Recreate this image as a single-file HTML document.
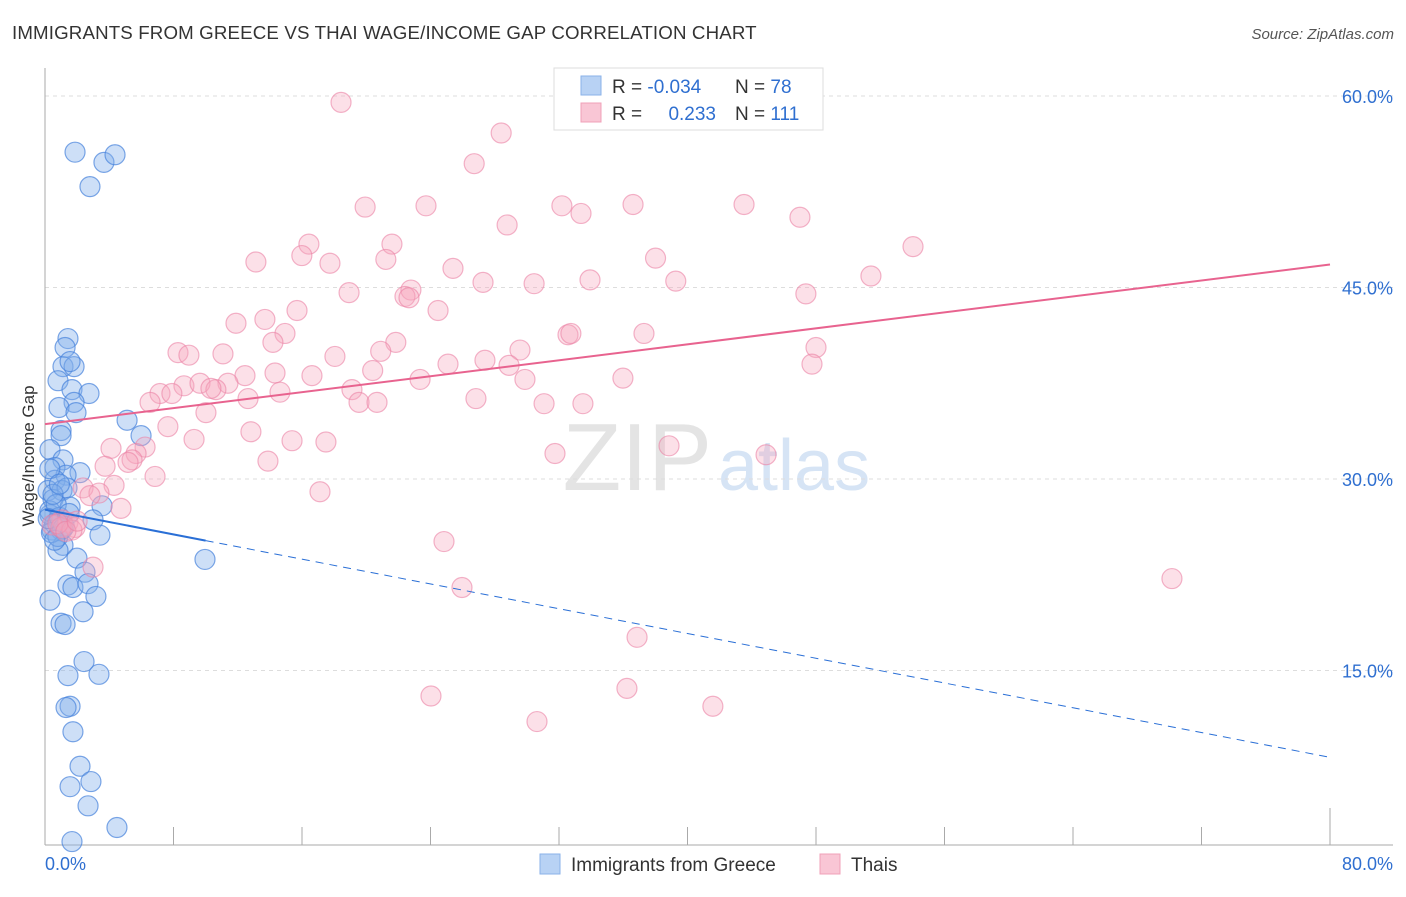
<!DOCTYPE html>
<html><head><meta charset="utf-8"><style>
body{margin:0;background:#fff;font-family:"Liberation Sans",sans-serif;}
svg text{font-family:"Liberation Sans",sans-serif;}
</style></head><body>
<svg id="chart" width="1406" height="892" xmlns="http://www.w3.org/2000/svg">
<text x="12" y="39" font-size="18.7" fill="#333" letter-spacing="0.15">IMMIGRANTS FROM GREECE VS THAI WAGE/INCOME GAP CORRELATION CHART</text>
<text x="1394" y="39" font-size="15" fill="#555" text-anchor="end" font-style="italic">Source: ZipAtlas.com</text>
<text x="712" y="490" font-size="96" fill="#e4e4e4" text-anchor="end" font-family="Liberation Serif">ZIP</text>
<text x="718" y="490" font-size="72" fill="#d6e4f5">atlas</text>
<g id="grid"></g>
<g id="axes"></g>
<g id="pts"></g>
<g id="trend"></g>
<text transform="translate(34,456) rotate(-90)" font-size="17" fill="#333" text-anchor="middle">Wage/Income Gap</text>
<g>
<rect x="554" y="68" width="269" height="62" fill="#fff" stroke="#ddd"/>
<rect x="581" y="76" width="20" height="19" fill="#b8d2f4" stroke="#8ab2e8"/>
<rect x="581" y="103" width="20" height="19" fill="#f9c6d5" stroke="#f0a0b8"/>
<text x="612" y="93" font-size="19" fill="#333">R = <tspan fill="#2f6fd0">-0.034</tspan></text>
<text x="735" y="93" font-size="19" fill="#333">N = <tspan fill="#2f6fd0">78</tspan></text>
<text x="612" y="120" font-size="19" fill="#333">R = </text>
<text x="716" y="120" font-size="19" fill="#2f6fd0" text-anchor="end">0.233</text>
<text x="735" y="120" font-size="19" fill="#333">N = <tspan fill="#2f6fd0">111</tspan></text>
</g>
<g>
<rect x="540" y="854" width="20" height="20" fill="#b8d2f4" stroke="#8ab2e8"/>
<text x="571" y="871" font-size="19" fill="#333">Immigrants from Greece</text>
<rect x="820" y="854" width="20" height="20" fill="#f9c6d5" stroke="#f0a0b8"/>
<text x="851" y="871" font-size="19" fill="#333">Thais</text>
</g>
</svg>
<script>
const yTicks=[15,30,45,60];
const xTickLabels=["0.0%","80.0%"];
const blueX=[1.87,3.67,4.36,2.80,1.43,1.25,1.12,1.81,1.56,0.81,1.68,2.74,1.81,0.87,1.93,1.00,5.11,1.00,5.98,0.31,1.12,0.62,2.18,1.31,0.62,0.19,1.06,1.37,0.50,1.56,3.55,2.99,0.31,0.81,1.00,0.44,3.42,1.12,0.81,1.99,9.96,2.49,1.43,1.74,2.68,3.17,0.31,2.37,1.00,1.25,2.43,3.36,1.43,1.56,1.31,1.74,2.18,2.86,1.56,2.68,4.48,1.68,0.3,0.6,0.9,0.4,0.7,1.2,0.2,0.5,0.8,1.5,0.3,0.9,1.1,0.6];
const blueY=[55.6,54.8,55.4,52.9,41.0,40.3,38.8,38.8,39.2,37.7,37.0,36.7,36.0,35.6,35.2,33.8,34.6,33.4,33.4,32.3,31.5,30.9,30.5,30.3,29.9,29.1,29.1,29.3,28.4,27.8,27.9,26.8,27.2,26.8,26.0,26.0,25.6,24.8,24.4,23.8,23.7,22.7,21.7,21.5,21.8,20.8,20.5,19.6,18.7,18.6,15.7,14.7,14.6,12.2,12.1,10.2,7.5,6.3,5.9,4.4,2.7,1.6,27.5,26.5,27.0,25.8,28.0,26.3,26.9,28.8,25.5,27.3,30.8,29.6,26.1,25.2];
const pinkX=[18.43,28.40,26.72,19.93,23.72,32.18,33.37,36.61,43.52,47.0,28.77,16.43,21.6,15.99,13.13,17.74,21.22,54.04,25.40,38.01,27.27,30.45,33.93,39.27,51.42,18.93,22.78,22.41,22.66,47.37,15.69,24.47,11.89,13.69,14.94,32.56,32.74,37.29,21.84,20.90,8.28,8.96,11.08,14.19,18.05,29.57,48.0,47.75,27.39,28.89,25.09,20.40,12.45,14.32,16.62,29.88,23.35,35.98,8.65,9.65,11.39,10.64,7.16,7.90,14.63,19.11,10.33,12.64,6.54,19.55,20.67,26.83,31.07,33.49,10.02,7.65,12.82,9.28,15.38,17.49,6.23,4.11,5.67,31.75,38.85,44.89,5.42,5.17,13.88,3.74,6.85,4.30,2.37,3.36,2.80,17.12,4.73,1.06,1.43,1.87,0.44,1.0,1.68,24.84,2.99,25.96,70.16,36.86,36.23,24.03,41.58,30.63,0.8,1.3,2.0];
const pinkY=[59.5,57.1,54.7,51.3,51.4,51.4,50.8,51.5,51.5,50.5,49.9,48.4,48.4,47.5,47.0,46.9,47.2,48.2,46.5,47.3,45.4,45.3,45.6,45.5,45.9,44.6,44.8,44.3,44.2,44.5,43.2,43.2,42.2,42.5,41.4,41.3,41.4,41.4,40.7,40.0,39.9,39.7,39.8,40.7,39.6,40.1,40.3,39.0,39.3,38.9,39.0,38.5,38.1,38.3,38.1,37.8,37.8,37.9,37.3,37.5,37.5,37.0,36.7,36.7,36.8,37.0,37.1,36.3,36.0,36.0,36.0,36.3,35.9,35.9,35.2,34.1,33.7,33.1,33.0,32.9,32.5,32.4,32.0,32.0,32.6,31.9,31.5,31.3,31.4,31.0,30.2,29.5,29.3,28.9,28.7,29.0,27.7,26.8,26.6,26.2,26.4,26.2,26.0,25.1,23.1,21.5,22.2,17.6,13.6,13.0,12.2,11.0,26.5,25.9,26.7];
const blueTrend=[27.6,8.2];
const pinkTrend=[34.3,46.8];
const X0=45,X1=1330,YB=862,PXPER=191.5/15;
function sx(v){return X0+(v/80)*(X1-X0);}
function sy(v){return YB-v*PXPER;}
const NS="http://www.w3.org/2000/svg";
function mk(tag,attrs,parent){const e=document.createElementNS(NS,tag);for(const k in attrs)e.setAttribute(k,attrs[k]);parent.appendChild(e);return e;}
const grid=document.getElementById('grid'),axes=document.getElementById('axes'),pts=document.getElementById('pts'),trend=document.getElementById('trend');
yTicks.forEach(t=>{
 const l=mk('line',{x1:X0,x2:1393,y1:sy(t),y2:sy(t),stroke:'#ddd','stroke-dasharray':'4,4'},grid);
 
 
 const tx=mk('text',{x:1393,y:sy(t)+7,'font-size':18,fill:'#2f6fd0','text-anchor':'end'},grid);
 tx.textContent=t.toFixed(1)+'%';
 
 
});
const ya=mk('line',{x1:X0,x2:X0,y1:68,y2:845,stroke:'#aaa'},axes);


const xa=mk('line',{x1:X0,x2:1393,y1:845,y2:845,stroke:'#aaa'},axes);


for(let k=1;k<=10;k++){
 const v=k*8; if(v>80)break;
 const t=mk('line',{x1:sx(v),x2:sx(v),y1:v===80?808:827,y2:845,stroke:'#aaa'},axes);
 
 
}
const l0=mk('text',{x:45,y:870,'font-size':18,fill:'#2f6fd0'},axes);l0.textContent=xTickLabels[0];


const l1=mk('text',{x:1393,y:870,'font-size':18,fill:'#2f6fd0','text-anchor':'end'},axes);l1.textContent=xTickLabels[1];


blueX.forEach((x,i)=>{
 const c=mk('circle',{cx:sx(x),cy:sy(blueY[i]),r:10,fill:'rgba(130,175,235,0.4)',stroke:'rgba(70,130,220,0.7)','stroke-width':1.2},pts);
 
 
});
pinkX.forEach((x,i)=>{
 const c=mk('circle',{cx:sx(x),cy:sy(pinkY[i]),r:10,fill:'rgba(245,165,190,0.35)',stroke:'rgba(235,130,165,0.6)','stroke-width':1.2},pts);
 
 
});
function ty(tr,x){return tr[0]+(tr[1]-tr[0])*x/80;}
const bs=mk('line',{x1:sx(0),y1:sy(ty(blueTrend,0)),x2:sx(10),y2:sy(ty(blueTrend,10)),stroke:'#2a6fd6','stroke-width':2},trend);


const bd=mk('line',{x1:sx(10),y1:sy(ty(blueTrend,10)),x2:sx(80),y2:sy(ty(blueTrend,80)),stroke:'#2a6fd6','stroke-width':1,'stroke-dasharray':'8,6'},trend);


const ps=mk('line',{x1:sx(0),y1:sy(ty(pinkTrend,0)),x2:sx(80),y2:sy(ty(pinkTrend,80)),stroke:'#e8638f','stroke-width':2},trend);


</script>
</body></html>
